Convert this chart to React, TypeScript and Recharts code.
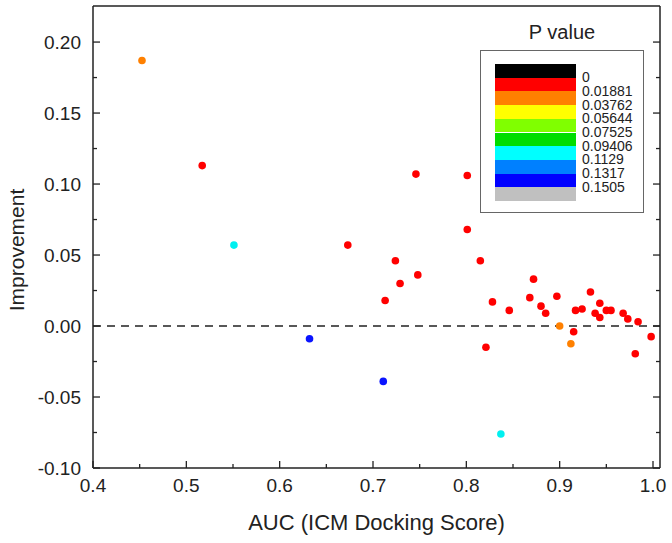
import { ScatterChart, Scatter, XAxis, YAxis, ReferenceLine, Label } from "recharts";

// AUC vs improvement, grouped by p-value colour band
const RED_POINTS = [
  { auc: 0.517, imp: 0.113 },
  { auc: 0.673, imp: 0.057 },
  { auc: 0.713, imp: 0.018 },
  { auc: 0.724, imp: 0.046 },
  { auc: 0.729, imp: 0.030 },
  { auc: 0.746, imp: 0.107 },
  { auc: 0.748, imp: 0.036 },
  { auc: 0.801, imp: 0.106 },
  { auc: 0.801, imp: 0.068 },
  { auc: 0.815, imp: 0.046 },
  { auc: 0.821, imp: -0.015 },
  { auc: 0.828, imp: 0.017 },
  { auc: 0.846, imp: 0.011 },
  { auc: 0.868, imp: 0.020 },
  { auc: 0.872, imp: 0.033 },
  { auc: 0.880, imp: 0.014 },
  { auc: 0.885, imp: 0.009 },
  { auc: 0.897, imp: 0.021 },
  { auc: 0.915, imp: -0.004 },
  { auc: 0.917, imp: 0.011 },
  { auc: 0.924, imp: 0.012 },
  { auc: 0.933, imp: 0.024 },
  { auc: 0.938, imp: 0.009 },
  { auc: 0.943, imp: 0.016 },
  { auc: 0.943, imp: 0.006 },
  { auc: 0.950, imp: 0.011 },
  { auc: 0.955, imp: 0.011 },
  { auc: 0.968, imp: 0.009 },
  { auc: 0.973, imp: 0.005 },
  { auc: 0.981, imp: -0.0195 },
  { auc: 0.984, imp: 0.003 },
  { auc: 0.998, imp: -0.0075 },
];
const ORANGE_POINTS = [
  { auc: 0.4525, imp: 0.187 },
  { auc: 0.900, imp: 0.0 },
  { auc: 0.912, imp: -0.0125 },
];
const CYAN_POINTS = [
  { auc: 0.551, imp: 0.057 },
  { auc: 0.837, imp: -0.076 },
];
const BLUE_POINTS = [
  { auc: 0.632, imp: -0.009 },
  { auc: 0.711, imp: -0.039 },
];

const AUC_TICKS = [0.4, 0.45, 0.5, 0.55, 0.6, 0.65, 0.7, 0.75, 0.8, 0.85, 0.9, 0.95, 1.0];
const IMP_TICKS = [-0.1, -0.075, -0.05, -0.025, 0, 0.025, 0.05, 0.075, 0.1, 0.125, 0.15, 0.175, 0.2];

const P_COLORS = ["#000000", "#ff0000", "#ff8000", "#ffff00", "#80ff00", "#00dd00", "#00ffff", "#0080ff", "#0000ff", "#c0c0c0"];
const P_LABELS = ["0", "0.01881", "0.03762", "0.05644", "0.07525", "0.09406", "0.1129", "0.1317", "0.1505"];

const FONT = "'Liberation Sans', Arial, sans-serif";
const INK = "#222";

const isMajorX = (v: number) => Math.round(v * 100) % 10 === 0;
const isMajorY = (v: number) => Math.round(v * 1000) % 50 === 0;

const BottomTick = ({ x, y, payload }: any) => {
  const major = isMajorX(payload.value);
  return (
    <g>
      <line x1={x} x2={x} y1={y} y2={y - (major ? 7 : 4)} stroke={INK} strokeWidth={1.3} />
      {major && (
        <text x={x} y={y + 24} textAnchor="middle" fontSize={19} fill={INK} fontFamily={FONT}>
          {payload.value.toFixed(1)}
        </text>
      )}
    </g>
  );
};

const TopTick = ({ x, y, payload }: any) => (
  <line x1={x} x2={x} y1={y} y2={y + (isMajorX(payload.value) ? 7 : 4)} stroke={INK} strokeWidth={1.3} />
);

const LeftTick = ({ x, y, payload }: any) => {
  const major = isMajorY(payload.value);
  return (
    <g>
      <line x1={x} x2={x + (major ? 7 : 4)} y1={y} y2={y} stroke={INK} strokeWidth={1.3} />
      {major && (
        <text x={x - 12} y={y + 7} textAnchor="end" fontSize={19} fill={INK} fontFamily={FONT}>
          {payload.value.toFixed(2)}
        </text>
      )}
    </g>
  );
};

const RightTick = ({ x, y, payload }: any) => (
  <line x1={x} x2={x - (isMajorY(payload.value) ? 7 : 4)} y1={y} y2={y} stroke={INK} strokeWidth={1.3} />
);

const dot = (color: string) => (p: any) => <circle cx={p.cx} cy={p.cy} r={3.8} fill={color} />;

const axisLine = { stroke: INK, strokeWidth: 1.5 };

export default function App() {
  return (
    <div style={{ position: "absolute", left: 0, top: 0, width: 672, height: 543, background: "#fff", fontFamily: FONT }}>
      <ScatterChart width={672} height={543} margin={{ top: 0, right: 0, bottom: 0, left: 0 }}>
        <XAxis
          type="number"
          dataKey="auc"
          domain={[0.4, 1.0075]}
          ticks={AUC_TICKS}
          interval={0}
          allowDataOverflow
          height={75}
          tickSize={0}
          tickMargin={0}
          tickLine={false}
          axisLine={axisLine}
          tick={<BottomTick />}
        >
          <Label
            content={({ viewBox }: any) => (
              <text
                x={viewBox.x + viewBox.width / 2}
                y={viewBox.y + 62}
                textAnchor="middle"
                fontSize={22}
                fill={INK}
                fontFamily={FONT}
              >
                AUC (ICM Docking Score)
              </text>
            )}
          />
        </XAxis>
        <XAxis
          xAxisId="top"
          orientation="top"
          type="number"
          domain={[0.4, 1.0075]}
          ticks={AUC_TICKS}
          interval={0}
          allowDataOverflow
          height={6}
          tickSize={0}
          tickMargin={0}
          tickLine={false}
          axisLine={axisLine}
          tick={<TopTick />}
        />
        <YAxis
          type="number"
          dataKey="imp"
          domain={[-0.1, 0.2254]}
          ticks={IMP_TICKS}
          interval={0}
          allowDataOverflow
          width={93}
          tickSize={0}
          tickMargin={0}
          tickLine={false}
          axisLine={axisLine}
          tick={<LeftTick />}
        >
          <Label
            content={({ viewBox }: any) => {
              const cx = viewBox.x + 24;
              const cy = viewBox.y + viewBox.height / 2 + 13;
              return (
                <text
                  x={cx}
                  y={cy}
                  transform={`rotate(-90 ${cx} ${cy})`}
                  textAnchor="middle"
                  fontSize={21}
                  fill={INK}
                  fontFamily={FONT}
                >
                  Improvement
                </text>
              );
            }}
          />
        </YAxis>
        <YAxis
          yAxisId="right"
          orientation="right"
          type="number"
          domain={[-0.1, 0.2254]}
          ticks={IMP_TICKS}
          interval={0}
          allowDataOverflow
          width={12}
          tickSize={0}
          tickMargin={0}
          tickLine={false}
          axisLine={axisLine}
          tick={<RightTick />}
        />
        <ReferenceLine y={0} stroke={INK} strokeWidth={1.5} strokeDasharray="8 6" />
        <Scatter data={RED_POINTS} fill="#ff0000" shape={dot("#ff0000")} isAnimationActive={false} />
        <Scatter data={ORANGE_POINTS} fill="#ff8000" shape={dot("#ff8000")} isAnimationActive={false} />
        <Scatter data={CYAN_POINTS} fill="#00f0f0" shape={dot("#00f0f0")} isAnimationActive={false} />
        <Scatter data={BLUE_POINTS} fill="#0a14ff" shape={dot("#0a14ff")} isAnimationActive={false} />
      </ScatterChart>

      {/* P value colour key */}
      <div style={{ position: "absolute", left: 482, width: 160, top: 20, textAlign: "center", fontSize: 20, lineHeight: "24px", color: INK }}>
        P value
      </div>
      <div style={{ position: "absolute", left: 480, top: 50, width: 164, height: 163, border: "1px solid #666", boxSizing: "border-box" }} />
      {P_COLORS.map((c, i) => (
        <div key={c} style={{ position: "absolute", left: 495, top: 64 + i * 13.7, width: 81, height: 13.7, background: c }} />
      ))}
      {P_LABELS.map((t, i) => (
        <div key={t} style={{ position: "absolute", left: 582, top: 64 + (i + 1) * 13.7 - 6.5, fontSize: 14, lineHeight: "13px", color: INK }}>
          {t}
        </div>
      ))}
    </div>
  );
}
